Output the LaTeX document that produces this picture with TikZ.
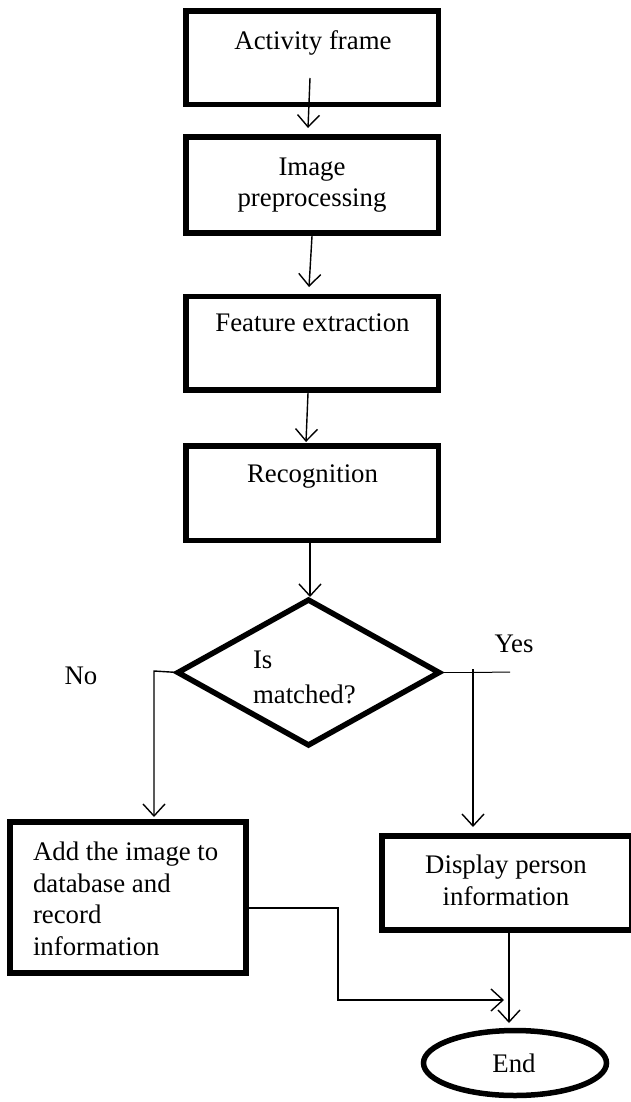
\documentclass[tikz,border=0pt]{standalone}
\usepackage{fontspec}
\setmainfont{Liberation Serif}
\usetikzlibrary{arrows.meta,shapes.geometric}
\begin{document}
\begin{tikzpicture}[x=1pt,y=-1pt,
  every node/.style={font=\fontsize{26.8}{31.5}\selectfont, inner sep=0pt, outer sep=0pt},
  stepbox/.style={draw, rectangle, line width=5.5pt, minimum width=252.5pt},
  decbox/.style={draw, diamond, line width=5.5pt, minimum width=261pt, minimum height=145pt},
  endbox/.style={draw, ellipse, line width=5.5pt, minimum width=183pt, minimum height=65pt},
  conn/.style={line width=1.4pt, -{Straight Barb[length=12pt,width=22pt,line width=1.4pt]}},
  plain/.style={line width=1.4pt},
  thin/.style={line width=1pt},
]
\useasboundingbox (0,0) rectangle (631,1102);

% boxes
\node[stepbox, minimum height=93.5pt] (b1) at (312,58) {};
\node[stepbox, minimum height=96pt]   (b2) at (312,185) {};
\node[stepbox, minimum height=93.5pt] (b3) at (312,343) {};
\node[stepbox, minimum height=94.5pt] (b4) at (312,493) {};
\node[decbox] (d) at (308.5,672.5) {};
\node[draw, rectangle, line width=5.5pt, minimum width=236pt, minimum height=151pt] (b5) at (128,897.5) {};
\node[draw, rectangle, line width=5.5pt, minimum width=250pt, minimum height=94pt] (b6) at (507,883) {};
\node[endbox] (e) at (515,1063) {};

% texts
\node[anchor=base] (t1) at (313,50) {Activity frame};
\node[anchor=base, align=center] (t2) at (312,207) {Image\\preprocessing};
\node[anchor=base] (t3) at (312.5,331) {Feature extraction};
\node[anchor=base] (t4) at (312.5,482) {Recognition};
\node[anchor=base west, align=left] (td) at (253,703) {Is\\[3.5pt]matched?};
\node[anchor=base] (tno) at (81,684) {No};
\node[anchor=base] (tyes) at (514,652) {Yes};
\node[anchor=base west, align=left] (t5) at (33,955) {Add the image to\\database and\\record\\information};
\node[anchor=base, align=center] (t6) at (506,905) {Display person\\information};
\node[anchor=base] (te) at (514,1072) {End};

% connector coordinates
\coordinate (a1s) at (310,78);  \coordinate (a1e) at (308,128);
\coordinate (a2s) at (312,236); \coordinate (a2e) at (309,287);
\coordinate (a3s) at (308,393); \coordinate (a3e) at (306,442);
\coordinate (a4s) at (310,543); \coordinate (a4e) at (310,597);
\coordinate (noturn) at (154,671); \coordinate (noend) at (154,817);
\coordinate (yesext) at (510,672);
\coordinate (yesturn) at (473,669); \coordinate (yesend) at (473,827);
\coordinate (ja) at (338,908); \coordinate (jb) at (338,1000); \coordinate (jc) at (504,1000);
\coordinate (endtop) at (509,1023);

\draw[conn] (a1s) -- (a1e);
\draw[conn] (a2s) -- (a2e);
\draw[conn] (a3s) -- (a3e);
\draw[conn] (a4s) -- (a4e);
\draw[conn] (d.west) -- (noturn) -- (noend);
\draw[plain] (d.east) -- (yesturn |- d.east);
\draw[thin] (yesturn |- d.east) -- (yesext);
\draw[conn] (yesturn) -- (yesend);
\draw[conn] (b5.east |- ja) -- (ja) -- (jb) -- (jc);
\draw[conn] (b6.south -| endtop) -- (endtop);
\end{tikzpicture}
\end{document}
